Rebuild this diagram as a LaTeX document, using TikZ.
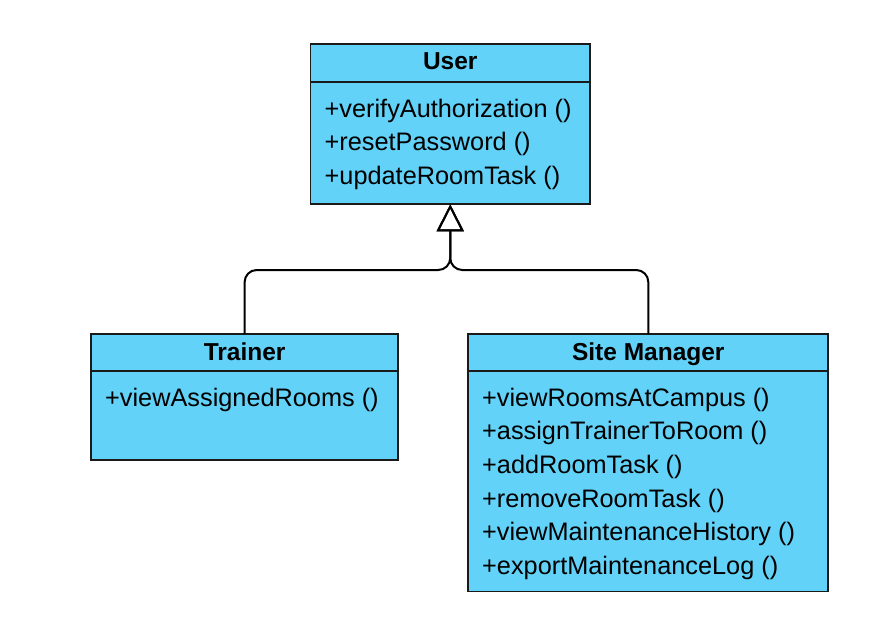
\documentclass[tikz,border=0pt]{standalone}
\usepackage{fontspec}
\setmainfont{Liberation Sans}
\usetikzlibrary{arrows.meta}
\definecolor{classfill}{RGB}{98,210,248}
\definecolor{classline}{RGB}{26,26,26}
\begin{document}
\begin{tikzpicture}[x=1pt,y=-1pt,
 classpart/.style={draw=classline, line width=1.8pt, fill=classfill, rectangle, inner sep=0pt, outer sep=0pt, anchor=north west},
 classname/.style={font=\fontsize{24.5}{29}\selectfont\bfseries, anchor=base, inner sep=0pt},
 member/.style={font=\fontsize{25.3}{30}\selectfont, anchor=base west, inner sep=0pt},
 inherit/.style={draw=black, line width=2pt, rounded corners=12pt, -{Triangle[open, length=27pt, width=27pt]}}]
\useasboundingbox (0,0) rectangle (884,627);
% User
\node[classpart, minimum width=279.5pt, minimum height=37.4pt] (userh) at (310.5,44.3) {};
\node[classpart, minimum width=279.5pt, minimum height=122.6pt] (userb) at (userh.south west) {};
\node[classname] (usern) at (450.25,69.3) {User};
\node[member] (u1) at (324.5,117) {+verifyAuthorization ()};
\node[member] (u2) at (324.5,150.7) {+resetPassword ()};
\node[member] (u3) at (324.5,184.4) {+updateRoomTask ()};
% Trainer
\node[classpart, minimum width=307.3pt, minimum height=37pt] (trainerh) at (91,334) {};
\node[classpart, minimum width=307.3pt, minimum height=89pt] (trainerb) at (trainerh.south west) {};
\node[classname] (trainern) at (244.65,360) {Trainer};
\node[member] (t1) at (105,406) {+viewAssignedRooms ()};
% Site Manager
\node[classpart, minimum width=360pt, minimum height=37pt] (smh) at (468.3,334) {};
\node[classpart, minimum width=360pt, minimum height=220.5pt] (smb) at (smh.south west) {};
\node[classname] (smn) at (648.3,360) {Site Manager};
\node[member] (s1) at (482,406) {+viewRoomsAtCampus ()};
\node[member] (s2) at (482,439.7) {+assignTrainerToRoom ()};
\node[member] (s3) at (482,473.3) {+addRoomTask ()};
\node[member] (s4) at (482,507) {+removeRoomTask ()};
\node[member] (s5) at (482,540.6) {+viewMaintenanceHistory ()};
\node[member] (s6) at (482,574.3) {+exportMaintenanceLog ()};
% Generalisation
\coordinate (junc) at (450.25,270);
\draw[inherit] (trainerh.north) |- (junc) -- (userb.south);
\draw[inherit] (smh.north) |- (junc) -- (userb.south);
\end{tikzpicture}
\end{document}
